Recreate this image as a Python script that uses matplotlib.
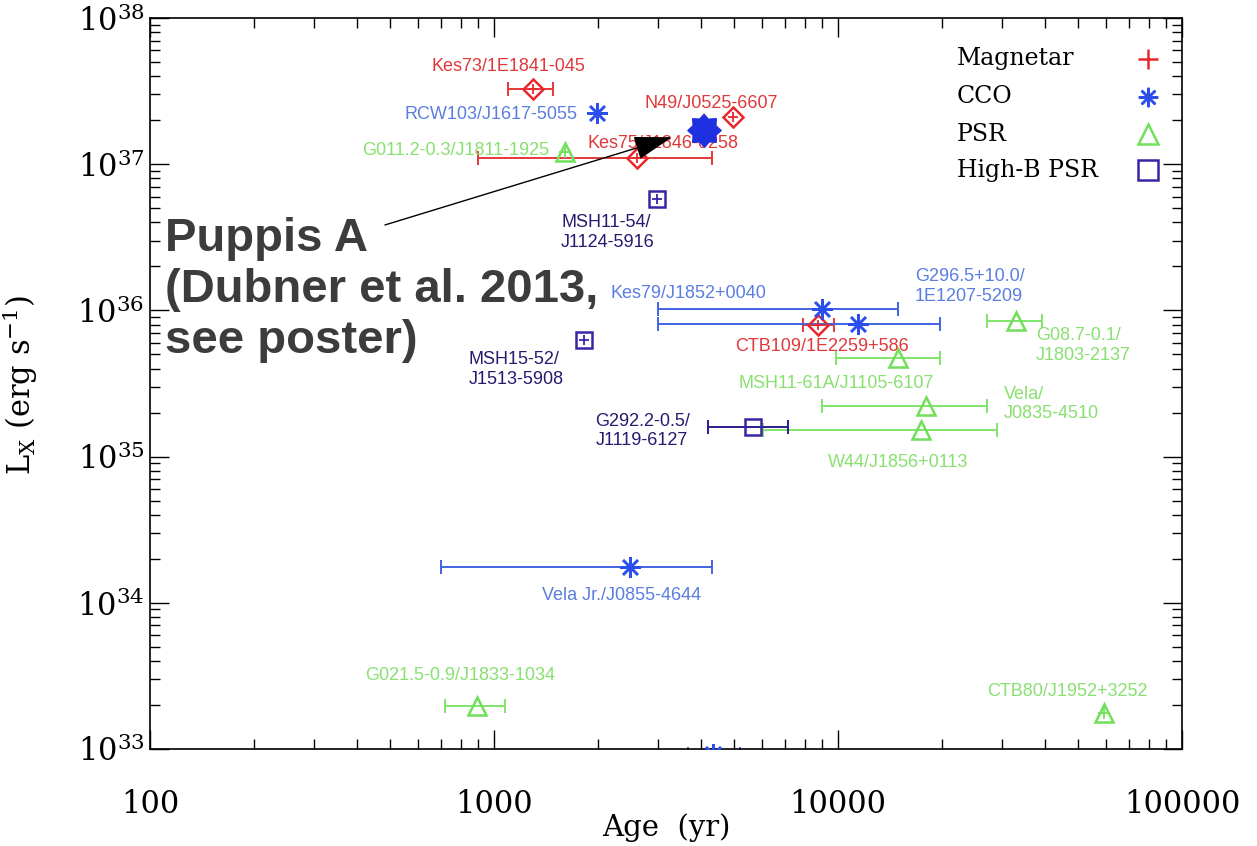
import numpy as np
import matplotlib
matplotlib.use("Agg")
import matplotlib.pyplot as plt

nan = np.nan

# Magnetars
mag_names = ["Kes73/1E1841-045", "N49/J0525-6607", "Kes75/J1846-0258", "CTB109/1E2259+586"]
mag_age = [1300, 4950, 2600, 8750]
mag_age_min = [1100, nan, 900, 7900]
mag_age_max = [1480, nan, 4300, 9740]
mag_lx = [3.27e37, 2.10e37, 1.10e37, 7.9e35]

# Central compact objects
cco_names = ["RCW103/J1617-5055", "Kes79/J1852+0040", "G296.5+10.0/\n1E1207-5209",
             "Vela Jr./J0855-4644", ""]
cco_age = [1990, 8990, 11400, 2490, 4330]
cco_age_min = [nan, 3000, 3000, 700, 3660]
cco_age_max = [nan, 14900, 19800, 4300, 5190]
cco_lx = [2.24e37, 1.02e36, 8.1e35, 1.76e34, 9.2e32]

# Rotation-powered pulsars
psr_names = ["G011.2-0.3/J1811-1925", "G08.7-0.1/\nJ1803-2137", "MSH11-61A/J1105-6107",
             "Vela/\nJ0835-4510", "W44/J1856+0113", "G021.5-0.9/J1833-1034",
             "CTB80/J1952+3252"]
psr_age = [1610, 32900, 14900, 18000, 17400, 890, 59300]
psr_age_min = [nan, 27100, 9900, 9000, 6050, 720, nan]
psr_age_max = [nan, 39200, 19800, 27100, 29000, 1080, nan]
psr_lx = [1.21e37, 8.5e35, 4.7e35, 2.22e35, 1.52e35, 1.97e33, 1.76e33]

# High-B pulsars
hib_names = ["MSH11-54/\nJ1124-5916", "MSH15-52/\nJ1513-5908", "G292.2-0.5/\nJ1119-6127"]
hib_age = [2980, 1830, 5660]
hib_age_min = [nan, nan, 4190]
hib_age_max = [nan, nan, 7150]
hib_lx = [5.8e36, 6.3e35, 1.59e35]

# Puppis A
pup_age = 4080
pup_lx = 1.71e37
pup_text = ["Puppis A", "(Dubner et al. 2013,", "see poster)"]

xticks = [100, 1000, 10000, 100000]
xtick_labels = ["100", "1000", "10000", "100000"]

# label placement: (dx, dy) in pixels from the point, horizontal alignment
mag_lab = [(-25, 22, "center"), (-22, 14, "center"), (26, 15, "center"), (4, -21, "center")]
cco_lab = [(-19, -1, "right"), (-134, 16, "center"), (112, 37, "center"),
           (-9, -29, "center"), (0, 0, "center")]
psr_lab = [(-16, 2, "right"), (20, -25, "left"), (-61, -25, "center"), (78, 2, "left"),
           (-23, -32, "center"), (-16, 30, "center"), (-37, 22, "center")]
hib_lab = [(-49, -34, "center"), (-68, -30, "center"), (-110, -4, "center")]

plt.rcParams["font.family"] = "DejaVu Serif"
plt.rcParams["mathtext.fontset"] = "dejavuserif"

fig = plt.figure(figsize=(12.57, 8.46), dpi=100)
ax = fig.add_axes([0.1193, 0.1147, 0.8210, 0.8640])
ax.set_xscale("log")
ax.set_yscale("log")
ax.set_xlim(100, 100000)
ax.set_ylim(1e33, 1e38)

asterisk = (8, 2, 0)
# blunt eight-pointed star for Puppis A
ang = np.arange(16) * np.pi / 8 + np.pi / 2
rad = np.where(np.arange(16) % 2 == 0, 1.0, 0.74)
octastar = np.column_stack([rad * np.cos(ang), rad * np.sin(ang)])

groups = [
    # ages, lo, hi, lx, names, label pos, marker, marker colour, line colour, text colour, size, inner plus
    (mag_age, mag_age_min, mag_age_max, mag_lx, mag_names, mag_lab, "D",
     "#e8282c", "#e8383a", "#e0383a", 10, [True] * 4),
    (cco_age, cco_age_min, cco_age_max, cco_lx, cco_names, cco_lab, asterisk,
     "#2b4fee", "#4063e0", "#5a7ee0", 15, [False] * 5),
    (psr_age, psr_age_min, psr_age_max, psr_lx, psr_names, psr_lab, "^",
     "#70e05a", "#80e46a", "#88e070", 13, [True, False, False, False, False, False, True]),
    (hib_age, hib_age_min, hib_age_max, hib_lx, hib_names, hib_lab, "s",
     "#3b23a6", "#2b1c8e", "#251b70", 11, [True, True, False]),
]

for age, lo, hi, lx, names, labs, mk, mc, lc, tc, ms, inner in groups:
    age = np.array(age, float)
    lx = np.array(lx, float)
    xerr = [age - np.array(lo, float), np.array(hi, float) - age]
    ax.errorbar(age, lx, xerr=xerr, fmt="none", ecolor=lc, elinewidth=1.4,
                capsize=5, capthick=1.4, zorder=2)
    ax.plot(age, lx, ls="none", marker=mk, ms=ms, mfc="none", mec=mc, mew=1.8, zorder=3)
    flag = np.array(inner)
    if flag.any():
        ax.plot(age[flag], lx[flag], ls="none", marker="+", ms=ms * 0.7, mec=mc,
                mew=1.3, zorder=3)
    for a, l, name, (dx, dy, ha) in zip(age, lx, names, labs):
        if name:
            ax.annotate(name, (a, l), xytext=(dx, dy), textcoords="offset pixels",
                        ha=ha, va="center", multialignment="left", color=tc,
                        fontsize=13, family="Liberation Sans")

ax.plot([pup_age], [pup_lx], ls="none", marker=octastar, ms=24, color="#1f30e0", zorder=5)

# Puppis A callout
ax.annotate("", xy=(3290, 1.53e37), xytext=(482, 3.84e36),
            arrowprops=dict(arrowstyle="-|>,head_length=2.4,head_width=0.75",
                            color="black", lw=1.0, mutation_scale=10,
                            shrinkA=0, shrinkB=0), zorder=4)
for i, line in enumerate(pup_text):
    ax.text(0.0145, 0.681 - i * 0.0698, line, transform=ax.transAxes,
            fontsize=34, fontweight="bold", family="Liberation Sans", color="#3c3c3c",
            ha="left", va="baseline", zorder=4)

# Legend drawn by hand: text on the left, symbol on the right
leg_labels = ["Magnetar", "CCO", "PSR", "High-B PSR"]
leg_markers = ["+", asterisk, "^", "s"]
leg_colors = ["#e8282c", "#2b4fee", "#70e05a", "#3b23a6"]
leg_y = [0.944, 0.892, 0.841, 0.792]
for lab, mk, c, y in zip(leg_labels, leg_markers, leg_colors, leg_y):
    ax.text(0.782, y, lab, transform=ax.transAxes, fontsize=17, va="center", ha="left")
    ax.plot([0.967], [y], transform=ax.transAxes, ls="none", marker=mk, ms=14,
            mfc="none", mec=c, mew=1.8)

ax.set_xticks(xticks, labels=xtick_labels)
ax.tick_params(which="both", direction="in", top=True, right=True, width=1.0)
ax.tick_params(which="major", length=14)
ax.tick_params(which="minor", length=7)
ax.tick_params(axis="x", labelsize=22, pad=29)
ax.tick_params(axis="y", labelsize=22, pad=4)
for s in ax.spines.values():
    s.set_linewidth(1.2)

ax.set_xlabel("Age  (yr)", fontsize=21, labelpad=-5)
ax.set_ylabel(r"L$_{\rm X}$ (erg s$^{-1}$)", fontsize=22)
ax.yaxis.set_label_coords(-0.107, 0.498)

fig.savefig("out.png", dpi=100)
